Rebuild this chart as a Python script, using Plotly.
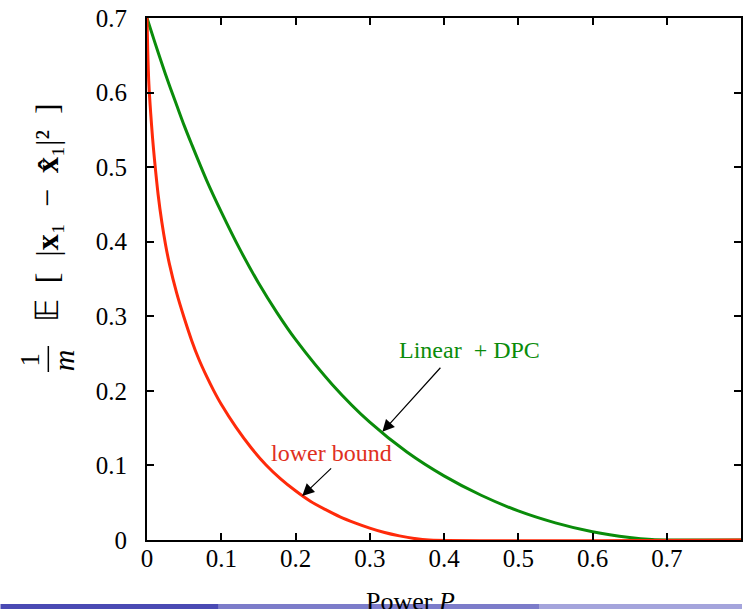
import plotly.graph_objects as go

# ---- data ----
power_dpc = [0, 0.01, 0.02, 0.03, 0.04, 0.05, 0.06, 0.08, 0.10, 0.125, 0.15, 0.175,
             0.20, 0.25, 0.30, 0.35, 0.40, 0.45, 0.50, 0.55, 0.60, 0.65, 0.68, 0.70, 0.80]
mse_dpc = [0.700, 0.669, 0.639, 0.610, 0.583, 0.556, 0.531, 0.483, 0.440, 0.390, 0.345, 0.305,
           0.269, 0.208, 0.158, 0.118, 0.086, 0.060, 0.039, 0.023, 0.011, 0.0033, 0.0006, 0.0, 0.0]

power_lb = [0, 0.001, 0.0025, 0.005, 0.0075, 0.01, 0.015, 0.02, 0.025, 0.03, 0.04, 0.05,
            0.06, 0.07, 0.08, 0.09, 0.10, 0.12, 0.14, 0.16, 0.18, 0.20, 0.22, 0.24, 0.26,
            0.28, 0.30, 0.32, 0.34, 0.36, 0.38, 0.80]
mse_lb = [0.700, 0.655, 0.612, 0.572, 0.539, 0.511, 0.463, 0.426, 0.396, 0.371, 0.331, 0.298,
          0.268, 0.242, 0.220, 0.200, 0.182, 0.151, 0.124, 0.101, 0.082, 0.066, 0.052, 0.041, 0.031,
          0.023, 0.016, 0.010, 0.0055, 0.002, 0.0, 0.0]

x_ticks = [0, 0.1, 0.2, 0.3, 0.4, 0.5, 0.6, 0.7]
x_tick_labels = ["0", "0.1", "0.2", "0.3", "0.4", "0.5", "0.6", "0.7"]
y_ticks = [0, 0.1, 0.2, 0.3, 0.4, 0.5, 0.6, 0.7]
y_tick_labels = ["0", "0.1", "0.2", "0.3", "0.4", "0.5", "0.6", "0.7"]

GREEN = "#0a8c0a"
RED = "#ff2a0a"
SERIF = "Liberation Serif, Times New Roman, serif"

fig = go.Figure()
fig.add_trace(go.Scatter(x=power_dpc, y=mse_dpc, mode="lines",
                         line=dict(color=GREEN, width=3, shape="spline", smoothing=0.8),
                         showlegend=False, hoverinfo="skip"))
fig.add_trace(go.Scatter(x=power_lb, y=mse_lb, mode="lines",
                         line=dict(color=RED, width=3, shape="spline", smoothing=0.8),
                         showlegend=False, hoverinfo="skip"))

W, H = 744, 609
L, R, T, B = 147, 1, 18, 69
PW, PH = W - L - R, H - T - B


def px(xp):
    return (xp - L) / PW


def py(yp):
    return (H - B - yp) / PH


axis_common = dict(showline=True, mirror="ticks", linecolor="black", linewidth=2,
                   ticks="inside", ticklen=7, tickwidth=2, tickcolor="black",
                   showgrid=False, zeroline=False,
                   tickfont=dict(family=SERIF, size=25, color="black"))

fig.update_xaxes(range=[0, 0.8], tickvals=x_ticks, ticktext=x_tick_labels,
                 ticklabelstandoff=-5, **axis_common)
fig.update_yaxes(range=[0, 0.7], tickvals=y_ticks, ticktext=y_tick_labels,
                 ticklabelstandoff=13, **axis_common)

SP = "\u2002"
annotations = [
    # curve labels
    dict(x=0.434, y=0.255, xref="x", yref="y", text="Linear  + DPC", showarrow=False,
         xanchor="center", yanchor="middle",
         font=dict(family=SERIF, size=24, color=GREEN)),
    dict(x=0.248, y=0.117, xref="x", yref="y", text="lower bound", showarrow=False,
         xanchor="center", yanchor="middle",
         font=dict(family=SERIF, size=24, color="#e0301e")),
    # arrows
    dict(x=0.317, y=0.145, xref="x", yref="y", ax=0.397, ay=0.233, axref="x", ayref="y",
         text="", showarrow=True, arrowhead=2, arrowsize=2, arrowwidth=1.2,
         arrowcolor="black", standoff=0),
    dict(x=0.209, y=0.059, xref="x", yref="y", ax=0.250, ay=0.098, axref="x", ayref="y",
         text="", showarrow=True, arrowhead=2, arrowsize=2, arrowwidth=1.2,
         arrowcolor="black", standoff=0),
    # y-axis title pieces
    dict(x=px(30), y=py(359), xref="paper", yref="paper", text="1", showarrow=False,
         xanchor="center", yanchor="middle",
         textangle=-90, font=dict(family=SERIF, size=27, color="black")),
    dict(x=px(63), y=py(360), xref="paper", yref="paper", text="<i>m</i>", showarrow=False,
         xanchor="center", yanchor="middle",
         textangle=-90, font=dict(family=SERIF, size=30, color="black")),
    dict(x=px(47), y=py(213), xref="paper", yref="paper",
         text=("\U0001D53C" + SP + "[" + SP + "|<b>x</b>\u2081" + SP + "\u2212" + SP
               + "<b>x\u0302</b>\u2081|\u00B2" + SP + "]"),
         xanchor="center", yanchor="middle",
         showarrow=False, textangle=-90, font=dict(family=SERIF, size=32, color="black")),
    # x-axis title
    dict(x=px(411), y=py(585), xref="paper", yref="paper", text="Power <i>P</i>",
         showarrow=False, xanchor="center", yanchor="top",
         font=dict(family=SERIF, size=26, color="black")),
]

shapes = [
    dict(type="line", xref="paper", yref="paper", x0=px(48), x1=px(48), y0=py(372), y1=py(346),
         line=dict(color="black", width=1.5)),
    dict(type="rect", xref="paper", yref="paper", x0=px(0), x1=px(219), y0=py(609), y1=py(604),
         fillcolor="#4a4ab4", line=dict(width=0), layer="above"),
    dict(type="rect", xref="paper", yref="paper", x0=px(219), x1=px(541), y0=py(609), y1=py(604),
         fillcolor="#7c7cca", line=dict(width=0), layer="above"),
    dict(type="rect", xref="paper", yref="paper", x0=px(541), x1=px(744), y0=py(609), y1=py(604),
         fillcolor="#a4a4dc", line=dict(width=0), layer="above"),
]

fig.update_layout(width=W, height=H, margin=dict(l=L, r=R, t=T, b=B, pad=0),
                  paper_bgcolor="white", plot_bgcolor="white",
                  annotations=annotations, shapes=shapes, showlegend=False)

fig.write_html("out.html", config={"displayModeBar": False})
